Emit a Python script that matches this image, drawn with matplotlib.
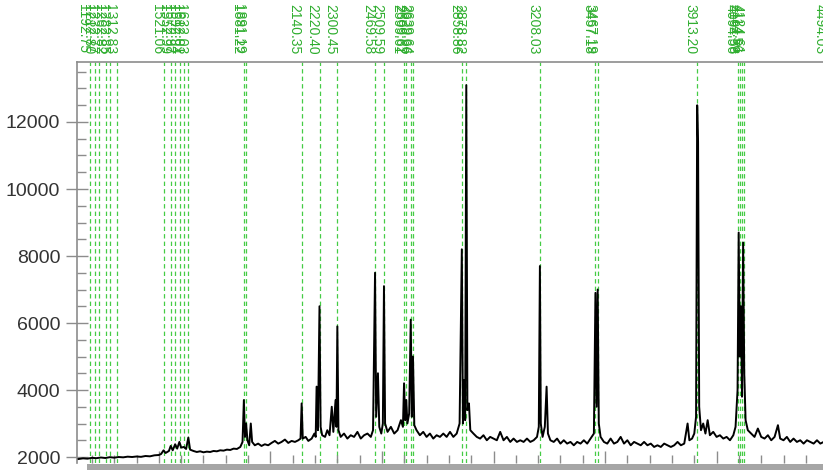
import matplotlib
matplotlib.use("Agg")
import matplotlib.pyplot as plt
from matplotlib.patches import Rectangle
from matplotlib.ticker import MultipleLocator

# ---- spectrum trace (m/z, intensity) ----
mz = [1140, 1160, 1180, 1200, 1220, 1240, 1260, 1280, 1300, 1320, 1340, 1360, 1380, 1400,
      1420, 1440, 1460, 1480, 1500, 1510, 1521, 1530, 1545, 1553, 1562, 1573, 1582, 1592,
      1600, 1612, 1622, 1632, 1640, 1655, 1670, 1685, 1700, 1715, 1730, 1745, 1760, 1775,
      1790, 1805, 1820, 1835, 1850, 1865, 1875, 1881, 1886, 1891, 1897, 1905, 1912, 1918,
      1930, 1945, 1960, 1975, 1990, 2005, 2020, 2035, 2050, 2065, 2080, 2095, 2110, 2125,
      2135, 2140, 2145, 2158, 2170, 2185, 2197, 2203, 2207, 2213, 2220, 2225, 2232, 2245,
      2255, 2265, 2275, 2282, 2292, 2296, 2300, 2305, 2315, 2330, 2345, 2360, 2375, 2390,
      2405, 2420, 2435, 2450, 2460, 2469, 2474, 2482, 2488, 2497, 2504, 2509, 2514, 2525,
      2540, 2555, 2570, 2585, 2594, 2599, 2604, 2609, 2614, 2622, 2629, 2634, 2639, 2645,
      2655, 2670, 2685, 2700, 2715, 2730, 2745, 2760, 2775, 2790, 2805, 2820, 2835, 2848,
      2858, 2863, 2869, 2873, 2878, 2883, 2890, 2896, 2910, 2925, 2940, 2955, 2970, 2985,
      3000, 3015, 3030, 3045, 3060, 3075, 3090, 3105, 3120, 3135, 3150, 3165, 3180, 3195,
      3203, 3208, 3212, 3220, 3230, 3238, 3244, 3255, 3270, 3285, 3300, 3315, 3330, 3345,
      3360, 3375, 3390, 3405, 3420, 3435, 3450, 3457, 3462, 3467, 3472, 3480, 3495, 3510,
      3525, 3540, 3555, 3570, 3585, 3600, 3615, 3630, 3645, 3660, 3675, 3690, 3705, 3720,
      3735, 3750, 3765, 3780, 3795, 3810, 3825, 3840, 3855, 3870, 3878, 3890, 3900, 3908,
      3913, 3917, 3922, 3930, 3940, 3950, 3960, 3970, 3985, 4000, 4015, 4030, 4045, 4060,
      4075, 4085, 4094, 4099, 4104, 4109, 4114, 4119, 4124, 4130, 4140, 4155, 4170, 4185,
      4200, 4215, 4230, 4245, 4260, 4275, 4285, 4300, 4315, 4330, 4345, 4360, 4375, 4390,
      4405, 4420, 4435, 4450, 4465, 4480]
intensity = [1940, 1960, 1950, 1975, 1965, 1985, 1970, 1995, 1980, 2000, 1990, 2010, 2000, 2015,
             2005, 2030, 2020, 2050, 2060, 2090, 2200, 2120, 2180, 2330, 2200, 2380, 2250, 2450,
             2280, 2300, 2240, 2580, 2220, 2180, 2150, 2170, 2140, 2160, 2150, 2180, 2170, 2200,
             2190, 2220, 2210, 2250, 2240, 2300, 2450, 3700, 2600, 3000, 2500, 2350, 3000, 2450,
             2350, 2400, 2330, 2380, 2350, 2420, 2480, 2400, 2450, 2520, 2420, 2480, 2450, 2500,
             2550, 3600, 2550, 2600, 2480, 2550, 2700, 2600, 4100, 2800, 6500, 2900, 2650, 2600,
             2800, 2650, 3500, 2750, 3700, 2900, 5900, 2800, 2600, 2700, 2550, 2650, 2600, 2750,
             2550, 2650, 2700, 2600, 2800, 7500, 3200, 4500, 2900, 2700, 3000, 7100, 3000, 2750,
             2900, 2700, 2800, 3100, 2900, 4200, 3100, 3700, 3000, 3300, 6100, 3200, 5000, 2950,
             2800, 2650, 2750, 2600, 2700, 2550, 2650, 2600, 2700, 2600, 2750, 2600, 2700, 3000,
             8200, 3000, 4300, 3100, 13100, 3400, 3600, 2800, 2700, 2600, 2550, 2650, 2500, 2600,
             2550, 2500, 2750, 2500, 2600, 2450, 2550, 2450, 2500, 2450, 2550, 2450, 2500, 2600,
             2900, 7700, 3000, 2600, 2900, 4100, 2700, 2500, 2450, 2550, 2400, 2500, 2400, 2450,
             2350, 2450, 2400, 2500, 2400, 2550, 2700, 6900, 3500, 7000, 3000, 2600, 2450, 2400,
             2550, 2400, 2450, 2600, 2400, 2500, 2350, 2450, 2400, 2350, 2450, 2350, 2400, 2300,
             2350, 2300, 2400, 2350, 2300, 2350, 2450, 2350, 2400, 3000, 2500, 2550, 2700, 3200,
             12500, 11400, 3500, 2800, 3000, 2700, 3100, 2650, 2750, 2600, 2650, 2550, 2600, 2500,
             2650, 2900, 4000, 8700, 5000, 6500, 3800, 8400, 4500, 3100, 2800, 2700, 2600, 2850,
             2600, 2550, 2650, 2500, 2600, 2950, 2550, 2500, 2600, 2450, 2550, 2450, 2500, 2400,
             2500, 2450, 2400, 2500, 2400, 2450]

# ---- annotated peak lines ----
peak_mz = [1192.75, 1212.80, 1232.77, 1262.82, 1282.85, 1312.83,
           1521.06, 1552.99, 1572.97, 1592.94, 1612.01, 1632.03,
           1881.22, 1891.19, 2140.35, 2220.40, 2300.45, 2469.58, 2509.59,
           2599.61, 2609.62, 2629.66, 2639.64, 2858.86, 2878.82, 3208.03,
           3457.18, 3467.19, 3913.20, 4094.56, 4104.58, 4114.56, 4124.61, 4494.03]
peak_labels = ["%.2f" % v for v in peak_mz]

y_ticks = [2000, 4000, 6000, 8000, 10000, 12000]

W, H = 823, 470
fig = plt.figure(figsize=(W / 100, H / 100), dpi=100)
fig.patch.set_facecolor("white")
ax = fig.add_axes([77 / W, 7 / H, (W - 77) / W, (463 - 62) / H])

gray = "#8c8c8c"
green_line = "#45cc45"
green_text = "#2fae2f"

for m in peak_mz:
    ax.axvline(m, color=green_line, lw=0.9, ls=(0, (3.5, 2.5)), zorder=1)

ax.plot(mz, intensity, color="black", lw=1.4, zorder=3)

ax.set_xlim(1133, 4477)
ax.set_ylim(1821, 13791)

ax.set_yticks(y_ticks)
ax.set_yticklabels([str(v) for v in y_ticks])
ax.yaxis.set_minor_locator(MultipleLocator(500))
ax.tick_params(axis="y", which="major", direction="inout", length=16, width=1,
               color=gray, labelsize=14, labelcolor="#333333", pad=4)
ax.tick_params(axis="y", which="minor", direction="in", length=6.5, width=1, color=gray)
for lab in ax.get_yticklabels():
    lab.set_fontfamily("Liberation Sans")

ax.xaxis.set_major_locator(MultipleLocator(500))
ax.xaxis.set_minor_locator(MultipleLocator(100))
ax.tick_params(axis="x", which="major", direction="in", length=9, width=1, color=gray,
               labelbottom=False)
ax.tick_params(axis="x", which="minor", direction="in", length=6, width=1, color=gray)

for s in ("right", "bottom"):
    ax.spines[s].set_visible(False)
for s in ("left", "top"):
    ax.spines[s].set_color(gray)
    ax.spines[s].set_linewidth(1.2)

# grey band along the bottom
fig.patches.append(Rectangle((87 / W, 0), 1, 6 / H, transform=fig.transFigure,
                             facecolor="#a6a6a6", edgecolor="none"))

trans = matplotlib.transforms.blended_transform_factory(ax.transData, fig.transFigure)
for m, lab in zip(peak_mz, peak_labels):
    ax.text(m, 1 - 4 / H, lab, transform=trans, rotation=-90, ha="right", va="top",
            fontsize=10, color=green_text, family="Liberation Sans", clip_on=False)

fig.savefig("out.png", dpi=100)
